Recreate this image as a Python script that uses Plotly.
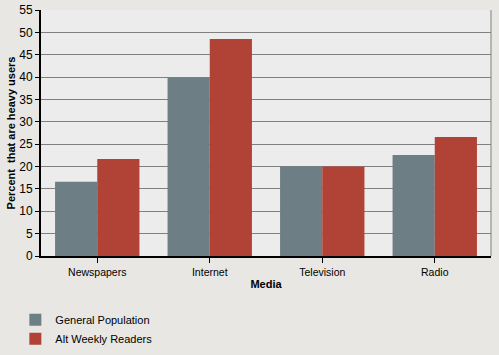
import plotly.graph_objects as go

categories = ["Newspapers", "Internet", "Television", "Radio"]
general_population = [16.6, 39.8, 20.0, 22.6]
alt_weekly_readers = [21.7, 48.5, 20.0, 26.6]
y_ticks = list(range(0, 56, 5))

fig = go.Figure()
fig.add_bar(x=categories, y=general_population, name="General Population",
            marker=dict(color="#6e7e85", line=dict(width=0)))
fig.add_bar(x=categories, y=alt_weekly_readers, name="Alt Weekly Readers",
            marker=dict(color="#b04335", line=dict(width=0)))

font = "Liberation Sans, Arial, sans-serif"
fig.update_layout(
    width=499, height=355,
    margin=dict(l=41, r=8, t=10, b=99, autoexpand=False),
    paper_bgcolor="#e8e7e3",
    plot_bgcolor="#ececec",
    barmode="group", bargap=0.25, bargroupgap=0,
    font=dict(family=font, size=11, color="#000000"),
    showlegend=True,
    legend=dict(orientation="v",
                x=-0.057, y=-0.2, xanchor="left", yanchor="top",
                bgcolor="rgba(0,0,0,0)", font=dict(size=11),
                itemwidth=30, tracegroupgap=0, traceorder="normal"),
)
fig.update_xaxes(
    showline=True, linecolor="#000000", linewidth=2, mirror=False,
    ticks="outside", ticklen=5, tickcolor="#000000", tickwidth=1,
    title=dict(text="<b>Media</b>", font=dict(size=11), standoff=4),
    tickfont=dict(size=10.5),
)
fig.update_yaxes(
    range=[0, 55], tickvals=y_ticks, ticktext=[str(v) for v in y_ticks],
    showline=True, linecolor="#000000", linewidth=2,
    ticks="outside", ticklen=4, tickcolor="#000000",
    showgrid=True, gridcolor="#808080", gridwidth=1,
    zeroline=False,
    title=dict(text="<b>Percent  that are heavy users</b>", font=dict(size=11), standoff=1),
    tickfont=dict(size=12),
)
# right border
fig.add_shape(type="line", xref="paper", yref="paper", x0=1, x1=1, y0=0, y1=1,
              line=dict(color="#808080", width=1))
fig.write_html("out.html", config={"displayModeBar": False},
               post_script="document.body.style.margin='0';document.body.style.overflow='hidden';")
